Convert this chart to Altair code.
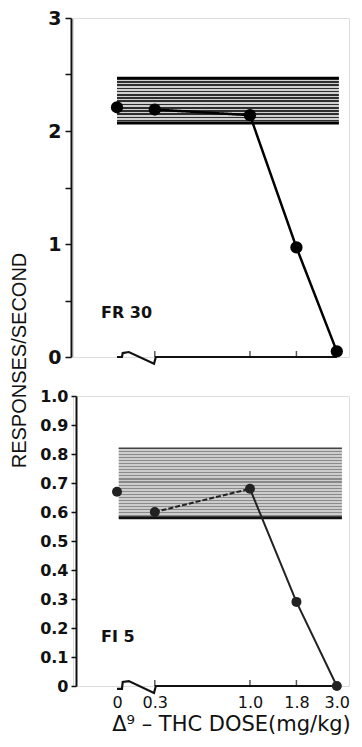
import altair as alt
import pandas as pd

# ---- data ----
dose_labels = ["0", "0.3", "1.0", "1.8", "3.0"]
dose_pos = [0.186, 0.3, 1.0, 1.8, 3.0]          # "0" drawn left of the axis break
fr30_rate = [2.21, 2.19, 2.14, 0.97, 0.05]
fi5_rate = [0.67, 0.60, 0.68, 0.29, 0.0]
fr30_band = [2.07, 2.47]
fi5_band = [0.58, 0.82]
fr30_band_x = [0.186, 3.08]
fi5_band_x = [0.19, 3.2]
break_x = [0.186, 0.198, 0.200, 0.216, 0.297, 0.304, 3.0]
fr30_break_y = [0, 0, 0.035, 0.044, -0.06, 0, 0]
fi5_break_y = [-0.01, -0.01, 0.014, 0.017, -0.024, 0, 0]
tick_doses = [0.3, 1.0, 1.8]
fr30_yticks = [0, 0.5, 1, 1.5, 2, 2.5, 3]
fi5_yticks = [0, 0.1, 0.2, 0.3, 0.4, 0.5, 0.6, 0.7, 0.8, 0.9, 1.0]
panel_labels = ["FR 30", "FI 5"]
label_pos = [(0.152, 0.39), (0.152, 0.17)]

X_DOMAIN = [0.1066, 3.5]
FONT = "Liberation Sans"
RFONT = "DejaVu Sans"


def stripes(n, dark, light, frac):
    stops = []
    for i in range(n):
        a, b, c = i / n, (i + frac) / n, (i + 1) / n
        stops += [
            alt.GradientStop(color=dark, offset=a),
            alt.GradientStop(color=dark, offset=b),
            alt.GradientStop(color=light, offset=b),
            alt.GradientStop(color=light, offset=c),
        ]
    return alt.LinearGradient(gradient="linear", x1=0, x2=0, y1=0, y2=1, stops=stops)


label_expr = " : ".join(
    f"abs(datum.value - {p}) < 0.001 ? '{l}'" for p, l in zip(dose_pos, dose_labels)
) + " : ''"


def panel(rates, band, band_x, break_y, ymax, yaxis, xaxis, label, lpos, height,
          dashed_first, line_color, line_w, dot_size, band_fill, top_edge, bottom_edge):
    xenc = alt.X("x:Q", scale=alt.Scale(type="log", domain=X_DOMAIN, nice=False), axis=xaxis)
    yscale = alt.Scale(domain=[0, ymax], nice=False, zero=False)

    def yenc(f="y"):
        return alt.Y(f"{f}:Q", scale=yscale, axis=yaxis)

    pts = pd.DataFrame({"x": dose_pos, "y": rates, "i": range(len(rates))})
    band_df = pd.DataFrame({"x": [band_x[0]], "x2": [band_x[1]], "y": [band[0]], "y2": [band[1]]})
    brk = pd.DataFrame({"x": break_x, "y": break_y, "o": range(len(break_x))})
    tk = pd.DataFrame({"x": tick_doses, "y": [0] * len(tick_doses)})

    rect = alt.Chart(band_df).mark_rect(fill=band_fill).encode(
        x=xenc, x2="x2:Q", y=yenc(), y2="y2:Q")
    edge_top = alt.Chart(band_df).mark_rule(color=top_edge[0], strokeWidth=top_edge[1]).encode(
        x=xenc, x2="x2:Q", y=alt.Y("y2:Q", scale=yscale, axis=yaxis))
    edge_bot = alt.Chart(band_df).mark_rule(color=bottom_edge[0], strokeWidth=bottom_edge[1]).encode(
        x=xenc, x2="x2:Q", y=yenc())
    base = alt.Chart(brk).mark_line(color="#111", strokeWidth=2.2, interpolate="linear").encode(
        x=xenc, y=yenc(), order="o:Q")
    ticks = alt.Chart(tk).mark_tick(color="#111", size=6, thickness=1.5, yOffset=-3,
                                    orient="vertical").encode(x=xenc, y=yenc())
    seg1 = alt.Chart(pts[(pts.i >= 1) & (pts.i <= 2)]).mark_line(
        color=line_color, strokeWidth=line_w,
        strokeDash=[5, 2] if dashed_first else [1, 0]).encode(x=xenc, y=yenc(), order="i:Q")
    seg2 = alt.Chart(pts[pts.i >= 2]).mark_line(
        color=line_color, strokeWidth=line_w).encode(x=xenc, y=yenc(), order="i:Q")
    dots = alt.Chart(pts).mark_circle(color=line_color, opacity=1, size=dot_size).encode(
        x=xenc, y=yenc())
    txt = alt.Chart(pd.DataFrame({"x": [lpos[0]], "y": [lpos[1]], "t": [label]})).mark_text(
        align="left", baseline="middle", font=RFONT, fontSize=16, fontWeight="bold",
        color="#111").encode(x=xenc, y=yenc(), text="t:N")
    return alt.layer(rect, edge_top, edge_bot, base, ticks, seg1, seg2, dots, txt).properties(
        width=276, height=height)


top_yaxis = alt.Axis(
    values=fr30_yticks,
    labelExpr="datum.value % 1 == 0 ? format(datum.value, 'd') : ''",
    grid=False, domainColor="#111", domainWidth=2, tickColor="#111", tickWidth=1.5,
    tickSize=6, labelFont=RFONT, labelFontSize=19, labelFontWeight="bold", labelColor="#111",
    labelPadding=4, title="RESPONSES/SECOND", titleFont=FONT, titleFontSize=20,
    titleFontWeight="normal", titleColor="#111", titleX=-52, titleY=342,
    titleAlign="center", titleBaseline="middle", titleAngle=270, offset=2,
)
bot_yaxis = alt.Axis(
    values=fi5_yticks,
    labelExpr="datum.value == 0 ? '0' : format(datum.value, '.1f')",
    grid=False, domainColor="#111", domainWidth=2, tickColor="#111", tickWidth=1.5,
    tickSize=5, labelFont=RFONT, labelFontSize=16, labelFontWeight="bold", labelColor="#111",
    labelPadding=3, title=None, offset=-3,
)
bot_xaxis = alt.Axis(
    values=dose_pos, labelExpr=label_expr, domain=False, ticks=False, grid=False,
    labelFont=RFONT, labelFontSize=16, labelColor="#111", labelPadding=8,
    labelFlush=False, title="Δ⁹ – THC DOSE(mg/kg)", titleFont=RFONT, titleFontSize=21,
    titleFontWeight="normal", titleColor="#111", titlePadding=3, titleX=158,
    titleAlign="center",
)

top = panel(fr30_rate, fr30_band, fr30_band_x, fr30_break_y, 3, top_yaxis, None,
            panel_labels[0], label_pos[0], 339, False, "#000", 2.5, 150,
            stripes(14, "#2e2e2e", "#d0d0d0", 0.5), ("#000", 2.5), ("#000", 3))
bottom = panel(fi5_rate, fi5_band, fi5_band_x, fi5_break_y, 1.0, bot_yaxis, bot_xaxis,
               panel_labels[1], label_pos[1], 290, True, "#222", 2, 100,
               stripes(23, "#8a8a8a", "#cdcdcd", 0.35), ("#444", 1.5), ("#111", 3))

chart = alt.vconcat(top, bottom, spacing=39, bounds="flush").properties(
    padding={"left": 0, "top": 0, "right": 0, "bottom": 0}
).configure_view(stroke=None).configure(background="white")

chart.save("out.html", embed_options={"renderer": "svg", "actions": False})
